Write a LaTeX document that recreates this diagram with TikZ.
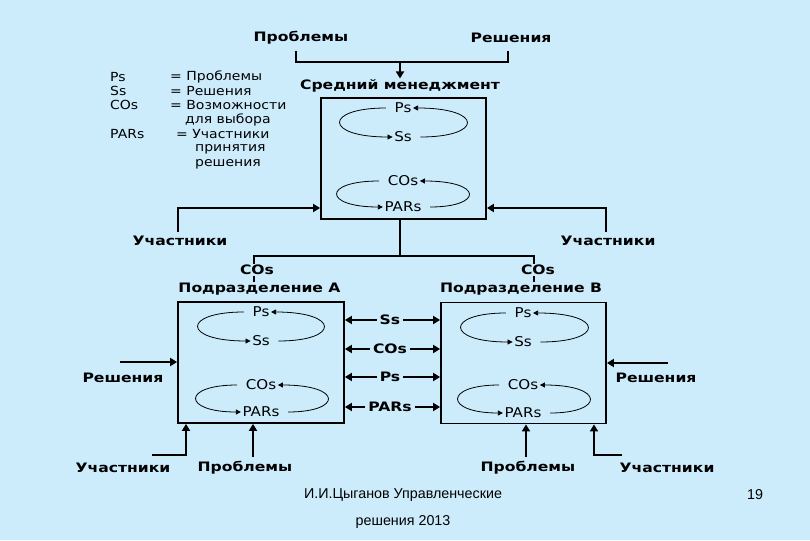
\documentclass[tikz,border=0pt]{standalone}
\usepackage{fontspec}
\setmainfont{DejaVu Sans}[FakeStretch=1.12]
\newfontfamily\labfont{DejaVu Sans}[FakeStretch=1.2]
\newfontfamily\footfont{Liberation Sans}
\usetikzlibrary{arrows.meta,calc}
\definecolor{bg}{RGB}{204,236,252}
\newcommand\cyc[8]{%
  \node[inl] (#1t) at (#2,#3) {#5};
  \node[inl] (#1b) at (#2,#4) {#6};
  \draw[loopline] let \p1=(#1t.west), \p2=(#1b.west) in
    (#1t.west) .. controls ({\x1+(#7pt-\x1)/0.75},\y1) and ({\x2+(#7pt-\x2)/0.75},\y2) .. (#1b.west);
  \draw[loopline] let \p1=(#1b.east), \p2=(#1t.east) in
    (#1b.east) .. controls ({\x1+(#8pt-\x1)/0.75},\y1) and ({\x2+(#8pt-\x2)/0.75},\y2) .. (#1t.east);
}
\begin{document}
\begin{tikzpicture}[x=1pt,y=-1pt,
  lbl/.style={font=\labfont\bfseries\fontsize{13}{15}\selectfont, inner sep=1pt},
  inl/.style={font=\fontsize{13.5}{15}\selectfont, inner sep=1.5pt},
  leg/.style={font=\fontsize{12.5}{14}\selectfont, inner sep=0pt, anchor=west},
  box/.style={draw, line width=1.8pt, minimum width=165pt, minimum height=121pt, inner sep=0pt},
  conn/.style={line width=2.6pt},
  arr/.style={conn, -{Triangle[length=7pt,width=8pt]}},
  loopline/.style={line width=0.8pt, -{Triangle[length=5pt,width=5pt]}, shorten <=7pt},
  mid/.style={font=\labfont\bfseries\fontsize{13}{15}\selectfont, inner sep=3pt}
]
\fill[bg] (0,0) rectangle (810,540);
\useasboundingbox (0,0) rectangle (810,540);

% legend
\node[leg] (l1) at (110,77) {Ps};
\node[leg] (l2) at (110,91) {Ss};
\node[leg] (l3) at (110,105) {COs};
\node[leg] (l5) at (110,134) {PARs};
\node[leg] (e1) at (170,77) {= Проблемы};
\node[leg] (e2) at (170,91) {= Решения};
\node[leg] (e3) at (170,105) {= Возможности};
\node[leg] (e4) at (185,120) {для выбора};
\node[leg] (e5) at (176,134) {= Участники};
\node[leg] (e6) at (195,149) {принятия};
\node[leg] (e7) at (195,164) {решения};

% top
\node[lbl] (tP) at (301,38) {Проблемы};
\node[lbl] (tS) at (511,38) {Решения};
\node[lbl] (T) at (400,86) {Средний менеджмент};
\coordinate (b1) at (296,51);
\coordinate (b2) at (296,62);
\coordinate (b3) at (508,62);
\coordinate (b4) at (508,51);
\coordinate (bm) at (400,62);
\draw[conn] (b1) -- (b2) -- (b3) -- (b4);
\draw[arr] (bm) -- (T.north);

% middle box
\node[box] (M) at (403.5,158.5) {};
\cyc{m1}{403}{108}{137}{Ps}{Ss}{341}{466}
\cyc{m2}{403}{181}{207}{COs}{PARs}{338}{468}

\node[lbl] (uL) at (180,241) {Участники};
\node[lbl] (uR) at (608,241) {Участники};
\coordinate (yL) at (0,208);
\coordinate (uLs) at (178,232);
\coordinate (uRs) at (606,232);
\draw[arr] (uLs) |- (M.west |- yL);
\draw[arr] (uRs) |- (M.east |- yL);

% split to divisions
\node[lbl] (cA) at (257,270) {COs};
\node[lbl] (cB) at (538,270) {COs};
\node[lbl] (dA) at (259.5,289) {Подразделение А};
\node[lbl] (dB) at (521,289) {Подразделение В};
\coordinate (s0) at (400,256);
\coordinate (sA) at (254,256);
\coordinate (sB) at (534,256);
\draw[conn] (s0 |- M.south) -- (s0);
\draw[conn] (sA |- cA.north) -- (sA) -- (sB) -- (sB |- cB.north);
\draw[conn] (sA |- cA.south) -- (sA |- dA.north);
\draw[conn] (sB |- cB.south) -- (sB |- dB.north);

% division boxes
\node[box, minimum width=166pt] (A) at (261,362.5) {};
\node[box] (B) at (523.5,363) {};
\cyc{a1}{261}{312}{341}{Ps}{Ss}{199}{323}
\cyc{a2}{261}{385}{412}{COs}{PARs}{197}{327}
\cyc{b1}{523}{313}{342}{Ps}{Ss}{462}{587}
\cyc{b2}{523}{385}{413}{COs}{PARs}{459}{589}

% exchange arrows
\node[mid] (x1) at (390,320) {Ss};
\node[mid] (x2) at (390,349) {COs};
\node[mid] (x3) at (390,377) {Ps};
\node[mid] (x4) at (390,407) {PARs};
\foreach \n in {x1,x2,x3,x4}{
  \draw[arr] (\n.west) -- (A.east |- \n);
  \draw[arr] (\n.east) -- (B.west |- \n);
}

% side inputs
\node[lbl] (rA) at (123,378) {Решения};
\node[lbl] (rB) at (656,378) {Решения};
\coordinate (rAs) at (120,362);
\coordinate (rBs) at (668,363);
\draw[arr] (rAs) -- (A.west |- rAs);
\draw[arr] (rBs) -- (B.east |- rBs);

\node[lbl] (uA) at (123,468) {Участники};
\node[lbl] (pA) at (245,468) {Проблемы};
\node[lbl] (pB) at (528,468) {Проблемы};
\node[lbl] (uB) at (667,468) {Участники};
\coordinate (uAs) at (152,455);
\coordinate (uAx) at (186,0);
\coordinate (pAs) at (253,457);
\coordinate (pBs) at (526,457);
\coordinate (uBs) at (622,455);
\coordinate (uBx) at (594,0);
\draw[arr] (uAs) -| (uAx |- A.south);
\draw[arr] (pAs) -- (pAs |- A.south);
\draw[arr] (pBs) -- (pBs |- B.south);
\draw[arr] (uBs) -| (uBx |- B.south);

% footer
\node[font=\footfont\fontsize{14.3}{17}\selectfont, inner sep=0pt] (f1) at (403,495) {И.И.Цыганов Управленческие};
\node[font=\footfont\fontsize{14.3}{17}\selectfont, inner sep=0pt] (f2) at (403,522) {решения 2013};
\node[font=\footfont\fontsize{14.3}{17}\selectfont, inner sep=0pt] (pg) at (755,495) {19};
\end{tikzpicture}
\end{document}
